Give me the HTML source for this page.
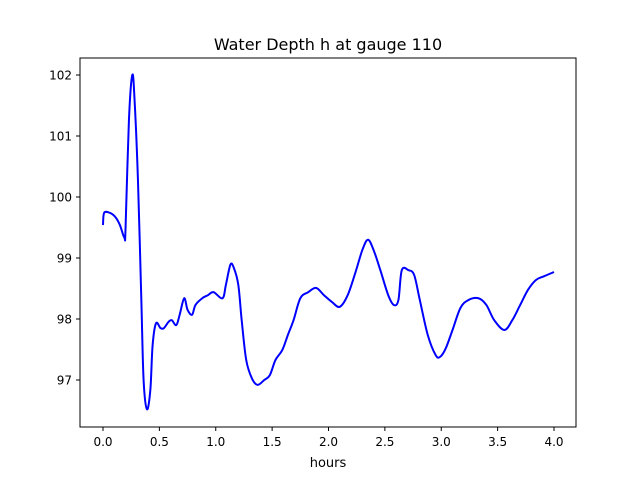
<!DOCTYPE html>
<html><head><meta charset="utf-8"><style>
body{margin:0;background:#fff;font-family:"Liberation Sans","DejaVu Sans",sans-serif}
svg text{font-family:"DejaVu Sans","Liberation Sans",sans-serif}
</style></head><body>
<svg id="c" width="640" height="480" xmlns="http://www.w3.org/2000/svg">
<rect width="640" height="480" fill="#fff"/>
<text x="328" y="50" font-size="16" text-anchor="middle">Water Depth h at gauge 110</text>
<text x="328" y="467" font-size="13" text-anchor="middle">hours</text>
<g id="ax"></g>
<rect x="80" y="58" width="496" height="369" fill="none" stroke="#000" stroke-width="1"/>
</svg>
<script>
const hours=[0,0.01,0.06,0.11,0.15,0.19,0.20,0.23,0.26,0.28,0.31,0.34,0.36,0.39,0.42,0.44,0.47,0.51,0.54,0.58,0.61,0.65,0.68,0.72,0.75,0.79,0.82,0.88,0.93,0.98,1.06,1.09,1.13,1.16,1.20,1.23,1.27,1.32,1.37,1.43,1.48,1.53,1.59,1.64,1.69,1.75,1.82,1.89,1.96,2.03,2.10,2.17,2.24,2.30,2.35,2.40,2.46,2.53,2.58,2.62,2.65,2.71,2.76,2.81,2.88,2.95,2.99,3.04,3.10,3.17,3.24,3.33,3.40,3.47,3.56,3.63,3.70,3.77,3.84,3.91,4.0];
const depth=[99.54,99.74,99.74,99.67,99.54,99.33,99.49,101.26,102.0,101.59,100.28,98.31,97.0,96.52,96.84,97.57,97.93,97.85,97.85,97.95,97.98,97.90,98.07,98.34,98.15,98.07,98.23,98.34,98.39,98.44,98.34,98.56,98.89,98.84,98.56,97.98,97.33,97.03,96.92,97.0,97.08,97.33,97.49,97.74,97.98,98.34,98.44,98.51,98.39,98.28,98.20,98.39,98.77,99.13,99.30,99.13,98.80,98.39,98.23,98.31,98.80,98.80,98.72,98.31,97.74,97.41,97.38,97.52,97.82,98.18,98.31,98.34,98.23,97.98,97.82,97.98,98.23,98.48,98.64,98.70,98.77];
const xTicks=["0.0","0.5","1.0","1.5","2.0","2.5","3.0","3.5","4.0"];
const yTicks=["97","98","99","100","101","102"];
const NS="http://www.w3.org/2000/svg";
const X=v=>103+(v-0)*(554-103)/4;
const Y=v=>380-(v-97)*61;
const ax=document.getElementById('ax');
function mk(t,a){const e=document.createElementNS(NS,t);for(const k in a)e.setAttribute(k,a[k]);return e;}
xTicks.forEach(t=>{const x=X(parseFloat(t));
 const l=mk('line',{x1:x,x2:x,y1:427,y2:431,stroke:'#000'});
 
 ax.appendChild(l);
 const s=mk('text',{x:x,y:446,'font-size':12,'text-anchor':'middle'});s.textContent=t;
 
 ax.appendChild(s);});
yTicks.forEach(t=>{const y=Y(parseFloat(t));
 const l=mk('line',{x1:76,x2:80,y1:y,y2:y,stroke:'#000'});
 
 ax.appendChild(l);
 const s=mk('text',{x:72,y:y+4.5,'font-size':12,'text-anchor':'end'});s.textContent=t;
 
 ax.appendChild(s);});
const P=hours.map((h,i)=>[X(h),Y(depth[i])]);
let d='M'+P[0][0]+','+P[0][1];
for(let i=0;i<P.length-1;i++){const p0=P[i-1]||P[i],p1=P[i],p2=P[i+1],p3=P[i+2]||P[i+1];
 const c1=[p1[0]+(p2[0]-p0[0])/6,p1[1]+(p2[1]-p0[1])/6],c2=[p2[0]-(p3[0]-p1[0])/6,p2[1]-(p3[1]-p1[1])/6];
 d+=` C${c1[0]},${c1[1]} ${c2[0]},${c2[1]} ${p2[0]},${p2[1]}`;}
const path=mk('path',{d:d,fill:'none',stroke:'#0000ff','stroke-width':2,'stroke-linejoin':'round'});


ax.appendChild(path);
</script>
</body></html>
